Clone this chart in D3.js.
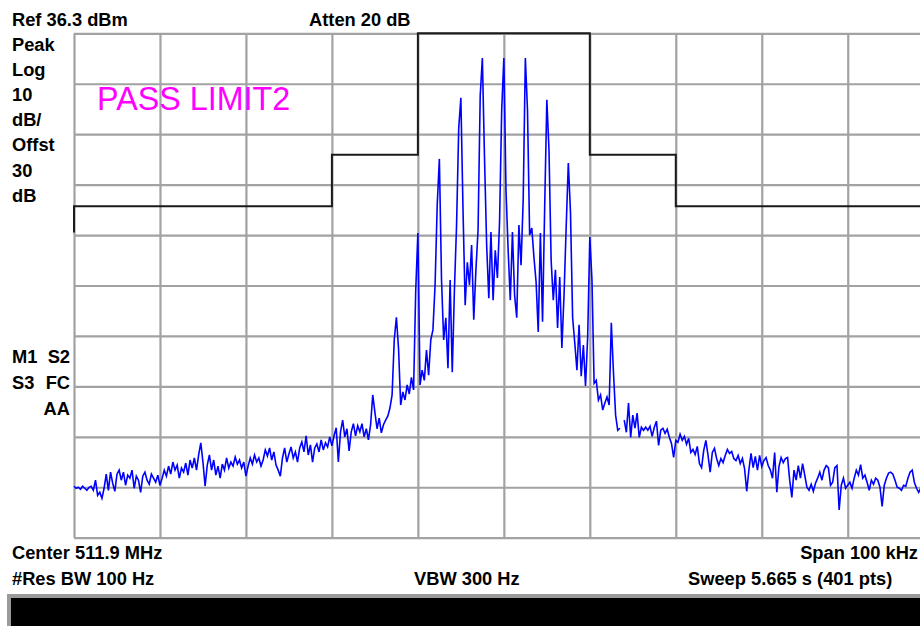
<!DOCTYPE html>
<html>
<head>
<meta charset="utf-8">
<script src="https://cdn.jsdelivr.net/npm/d3@7"></script>
<style>
  body { margin: 0; background: #fff; }
  text { font-family: "Liberation Sans", Arial, sans-serif; }
  .lbl { font-weight: bold; font-size: 18.3px; fill: #000; }
</style>
</head>
<body>
<svg id="chart"></svg>
<script>
// analyzer settings
var refLevel = 36.3, dbPerDiv = 10, nDiv = 10;
var spanKHz = 100, nPts = 401;

// frequency offset (kHz) grid and level grid (dBm)
var freqTicks = [-50, -40, -30, -20, -10, 0, 10, 20, 30, 40, 50];
var levelTicks = [36.3, 26.3, 16.3, 6.3, -3.7, -13.7, -23.7, -33.7, -43.7, -53.7, -63.7];

// limit line 2 (kHz, dBm)
var limitFreq = [-50, -50, -20, -20, -10, -10, 10, 10, 20, 20, 50];
var limitLevel = [-3.2, 2, 2, 12.2, 12.2, 36.3, 36.3, 12.2, 12.2, 2, 2];

// trace, 401 pts, dBm
var trace = [
  -53.5, -53.9, -53.7, -54.1, -53.5, -53.9, -54.3, -53.7, -53.5, -54.3,
  -52.3, -55.3, -54.7, -55.9, -53.9, -51.1, -54.3, -50.7, -52.9, -54.5,
  -51.1, -50.3, -52.3, -50.7, -53.3, -51.3, -51.9, -50.3, -53.9, -51.5,
  -52.3, -54.7, -51.5, -50.7, -52.3, -53.1, -51.1, -51.9, -52.7, -51.3,
  -53.3,
  -51.9, -50.3, -51.5, -49.5, -51.1, -48.7, -50.3, -49.3, -51.9, -49.9,
  -50.7, -48.9, -51.3, -48.3, -49.9, -47.9, -50.3, -47.3, -44.9, -48.7,
  -53.5, -49.3, -47.3, -50.3, -48.3, -51.3, -49.5, -51.9, -49.1, -50.3,
  -47.9, -49.9, -48.7, -49.5, -47.7, -49.1, -48.3, -49.9, -48.7, -51.5,
  -49.5, -47.9, -49.1, -47.3, -48.7, -47.9, -49.5, -48.3, -46.3, -47.5,
  -45.9, -48.3, -46.7, -49.3, -50.3, -51.5, -47.9, -45.9, -48.7, -47.1,
  -45.7, -47.9, -46.7, -48.7, -45.9, -44.7, -46.7, -43.5, -47.3, -45.3,
  -48.7, -45.9, -45.1, -46.7, -44.3, -46.3, -44.9, -45.7, -43.7, -45.5,
  -43.5, -41.9, -48.7, -42.7, -40.4, -43.7, -42.1, -46.5, -42.7, -41.1,
  -43.5, -41.5, -42.7, -41.1, -43.7, -42.1, -44.3, -41.3, -35.4, -38.8,
  -42.1, -40.0, -42.9, -41.3, -40.4, -39.6, -38.0, -35.4, -24.5, -20.0,
  -26.2, -37.4, -34.8, -36.4, -33.4, -35.2, -31.9, -34.4, -14.6, -3.3,
  -33.4, -30.5, -32.5, -26.5, -31.5, -24.5, -22.5, -13.6, 2.3, 11.4,
  -12.6, -24.5, -20.1, -30.1, -12.6, -30.9, -14.6, -1.7, 17.5, 23.5,
  1.3, -17.6, -9.1, -13.6, -5.7, -20.5, -10.6, -2.7, 23.9, 31.4,
  11.6, -5.7, -16.2, -3.1, -16.6, -6.7, -12.2, -1.1, 21.1, 31.4,
  5.2, -6.7, -16.6, -3.1, -15.6, -20.1, -1.7, -9.7, 3.3, 31.4,
  21.1, -3.7, -2.3, -8.1, -13.0, -22.9, -3.3, -20.9, 1.9, 23.1,
  13.2, -8.7, -16.6, -10.6, -22.1, -12.0, -26.1, -15.6, -2.1, 10.6,
  0.9, -20.1, -25.1, -30.5, -21.5, -31.7, -25.5, -33.6, -23.9, -4.1,
  -12.6, -33.1, -32.5, -36.4, -35.4, -38.4, -37.0, -35.8, -37.4, -21.1,
  -30.9, -39.4, -42.4, -42.0, null, -40.4, -42.8, -37.0, -43.8, -39.4,
  -42.0, -39.0, -43.8, -41.8, -42.4, -41.8, -42.4, -41.6, -43.6, -41.8,
  -40.6, -45.4, -42.4, -42.0, -43.0, -42.2, -43.8, -45.0, -47.8, -44.4,
  -44.8, -43.2, -44.4, -43.6, -45.2, -44.0, -46.8, -46.2, -47.2, -45.6,
  -49.0, -49.8, -46.4, -44.4, -47.4, -50.7, -46.8, -46.0, -48.0, -49.4,
  -48.0, -48.8, -47.4, -46.2, -47.0, -46.6, -48.0, -48.4, -47.4, -49.0,
  -48.0, -50.0, -54.5, -50.3, -47.0, -49.8, -47.6, -50.3, -47.4, -49.6,
  -48.4, -47.8, -49.4, -50.3, -51.9, -46.8, -54.7, -49.6, -47.8, -48.8,
  -48.0, -47.8, -52.3, -55.7, -50.3, -52.3, -49.4, -51.9, -49.0, -51.3,
  -53.7, -54.3, -53.1, -54.5, -52.9, -51.9, -50.7, -52.3, -50.3, -49.4,
  -49.8, -53.3, -52.7, -49.8, -49.4, -58.2, -53.3, -51.9, -53.9, -53.3,
  -52.7, -53.9, -51.9, -50.3, -51.3, -49.2, -51.9, -51.3, -52.7, -54.3,
  -52.3, -53.1, -51.9, -52.3, -53.7, -57.5, -53.3, -51.9, -50.9, -50.7,
  -51.1, -52.3, -53.7, -53.9, -54.3, -53.3, -53.5, -51.9, -50.7, -50.3,
  -52.7, -53.9, -54.7, -53.9, -53.1, -54.3, -53.5, -52.7, -53.9, -53.3
];

// annotation texts
var leftLabels = ["Peak", "Log", "10", "dB/", "Offst", "30", "dB"];
var markerLabels = [["M1", "S2"], ["S3", "FC"], ["", "AA"]];
var topLeft = "Ref 36.3 dBm", topMid = "Atten 20 dB";
var limitText = "PASS LIMIT2";
var bottomRow1 = ["Center 511.9 MHz", "Span 100 kHz"];
var bottomRow2 = ["#Res BW 100 Hz", "VBW 300 Hz", "Sweep 5.665 s (401 pts)"];

var W = 920, H = 626;
var plotLeft = 74, plotTop = 33.3, plotW = 859.7, plotH = 504.4;

var svg = d3.select("#chart").attr("width", W).attr("height", H);

var x = d3.scaleLinear().domain([-spanKHz / 2, spanKHz / 2]).range([plotLeft, plotLeft + plotW]);
var y = d3.scaleLinear().domain([refLevel - dbPerDiv * nDiv, refLevel]).range([plotTop + plotH, plotTop]);

// graticule
var grid = svg.append("g").attr("class", "grid");
grid.append("g")
  .attr("transform", "translate(0," + plotTop + ")")
  .call(d3.axisBottom(x).tickValues(freqTicks).tickSize(plotH).tickSizeOuter(0).tickFormat(""))
  .call(function(g) { g.select(".domain").remove(); });
grid.append("g")
  .attr("transform", "translate(" + plotLeft + ",0)")
  .call(d3.axisRight(y).tickValues(levelTicks).tickSize(plotW).tickSizeOuter(0).tickFormat(""))
  .call(function(g) { g.select(".domain").remove(); });
grid.selectAll("line").attr("stroke", "#a2a2a2").attr("stroke-width", 2.2);

// limit line
var limitPts = limitFreq.map(function(f, i) { return [f, limitLevel[i]]; });
svg.append("path")
  .datum(limitPts)
  .attr("fill", "none")
  .attr("stroke", "#1a1a1a")
  .attr("stroke-width", 2)
  .attr("d", d3.line().x(function(d) { return x(d[0]); }).y(function(d) { return y(d[1]); }));

// trace
var fstep = spanKHz / (nPts - 1);
svg.append("path")
  .datum(trace)
  .attr("fill", "none")
  .attr("stroke", "#0000ff")
  .attr("stroke-width", 1.6)
  .attr("d", d3.line()
    .defined(function(d) { return d != null; })
    .x(function(d, i) { return x(-spanKHz / 2 + i * fstep); })
    .y(function(d) { return y(d); }));

// texts
svg.append("text").attr("class", "lbl").attr("x", 12).attr("y", 26).text(topLeft);
svg.append("text").attr("class", "lbl").attr("x", 309).attr("y", 26).text(topMid);

svg.selectAll(".left").data(leftLabels).enter().append("text")
  .attr("class", "lbl left")
  .attr("x", 12)
  .attr("y", function(d, i) { return 51 + i * 25.1; })
  .text(function(d) { return d; });

markerLabels.forEach(function(row, i) {
  svg.append("text").attr("class", "lbl").attr("x", 12).attr("y", 363 + i * 26).text(row[0]);
  svg.append("text").attr("class", "lbl").attr("x", 70).attr("y", 363 + i * 26)
    .attr("text-anchor", "end").text(row[1]);
});

svg.append("text")
  .attr("x", 97).attr("y", 110)
  .attr("font-size", "32.3px")
  .attr("fill", "#ff00ff")
  .text(limitText);

svg.append("text").attr("class", "lbl").attr("x", 12).attr("y", 559).text(bottomRow1[0]);
svg.append("text").attr("class", "lbl").attr("x", 918).attr("y", 559).attr("text-anchor", "end").text(bottomRow1[1]);
svg.append("text").attr("class", "lbl").attr("x", 12).attr("y", 585).text(bottomRow2[0]);
svg.append("text").attr("class", "lbl").attr("x", 414).attr("y", 585).text(bottomRow2[1]);
svg.append("text").attr("class", "lbl").attr("x", 688).attr("y", 585).text(bottomRow2[2]);

// status bar at the bottom
svg.append("rect").attr("x", 9).attr("y", 596).attr("width", 920).attr("height", 40)
  .attr("fill", "#000").attr("stroke", "#9a9a9a").attr("stroke-width", 4);
</script>
</body>
</html>
